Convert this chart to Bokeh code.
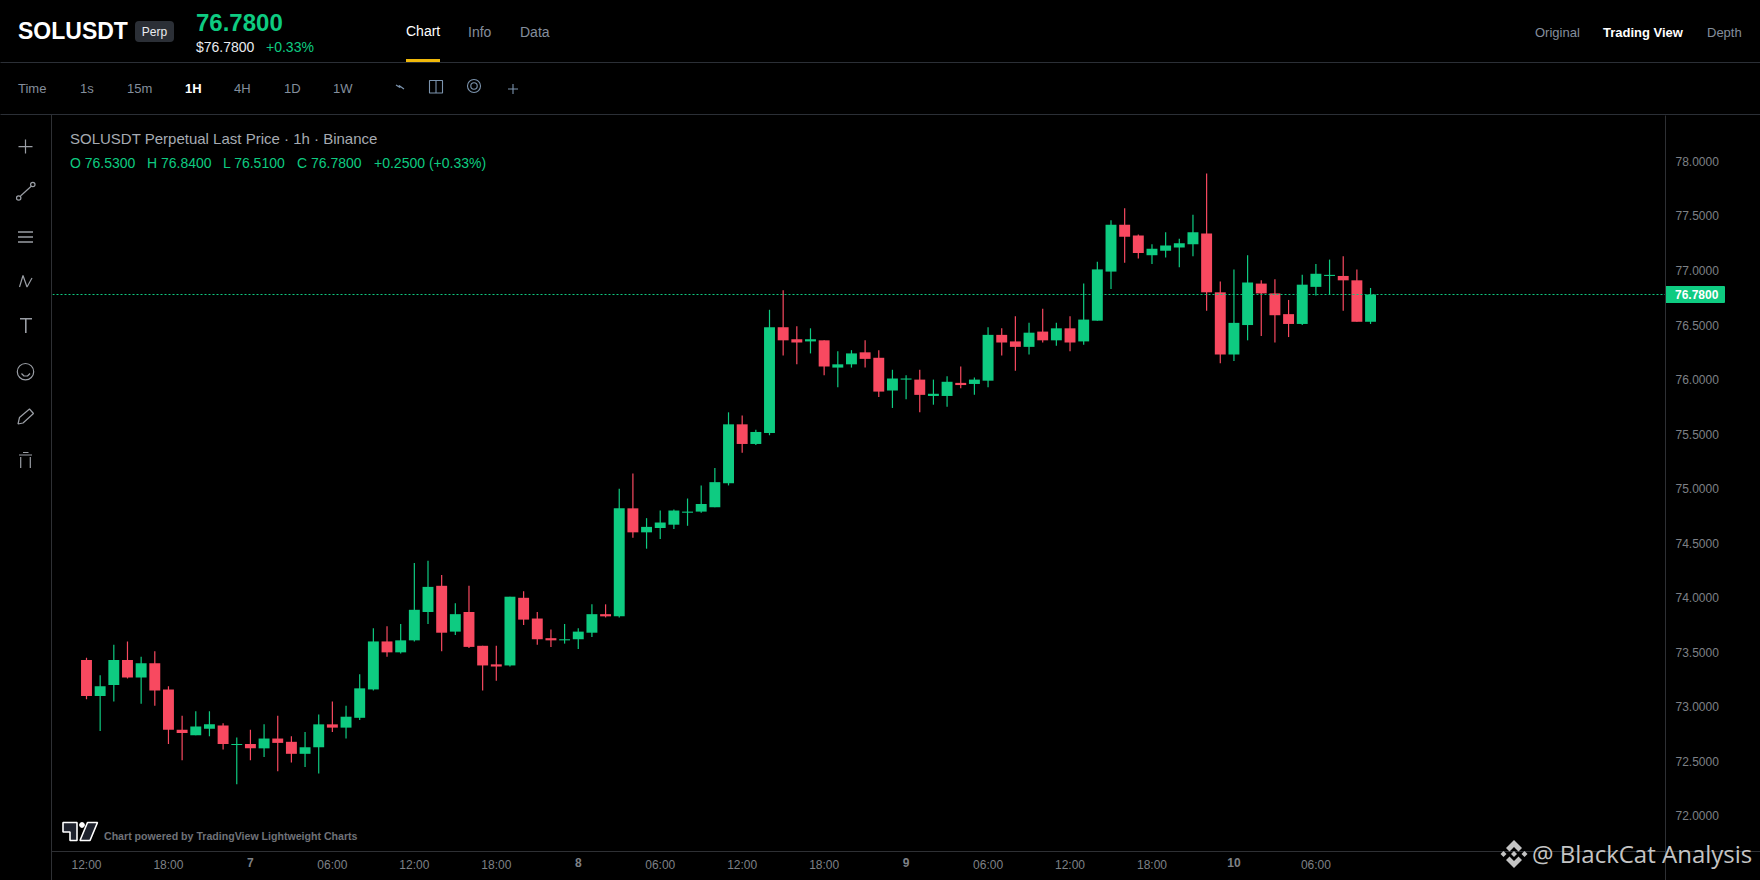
from bokeh.core.properties import value
from bokeh.embed import file_html
from bokeh.layouts import column
from bokeh.resources import INLINE
from bokeh.models import (ColumnDataSource, FixedTicker, LinearAxis,
                          NumeralTickFormatter, Range1d)
from bokeh.plotting import figure

# ---- data -----------------------------------------------------------------
opens = [73.43,73.10,73.20,73.43,73.27,73.40,73.16,72.79,72.74,72.80,
         72.83,72.65,72.66,72.62,72.71,72.68,72.57,72.63,72.84,72.81,
         72.90,73.16,73.60,73.50,73.61,73.87,74.11,73.69,73.87,73.56,
         73.39,73.38,74.00,73.81,73.63,73.61,73.62,73.68,73.85,73.83,
         74.82,74.60,74.64,74.67,74.78,74.79,74.83,75.05,75.59,75.41,
         75.51,76.48,76.37,76.35,76.36,76.11,76.14,76.25,76.20,75.90,
         76.00,76.00,75.85,75.85,75.97,75.96,75.99,76.41,76.35,76.30,
         76.44,76.36,76.47,76.35,76.54,76.99,77.42,77.32,77.14,77.18,
         77.21,77.24,77.34,76.80,76.23,76.50,76.88,76.79,76.60,76.51,
         76.85,76.95,76.95,76.91,76.53]
highs = [73.45,73.29,73.57,73.60,73.46,73.51,73.19,72.92,72.96,72.96,
         72.85,72.72,72.79,72.84,72.92,72.73,72.77,72.93,73.05,73.01,
         73.30,73.72,73.74,73.76,74.32,74.34,74.21,73.95,74.11,73.56,
         73.56,74.01,74.06,73.87,73.71,73.76,73.72,73.94,73.94,75.00,
         75.14,74.73,74.80,74.81,74.91,75.03,75.19,75.70,75.67,75.54,
         76.64,76.82,76.49,76.47,76.36,76.26,76.27,76.36,76.27,76.09,
         76.04,76.09,76.00,76.03,76.12,76.02,76.48,76.47,76.58,76.52,
         76.65,76.52,76.58,76.88,77.08,77.46,77.57,77.33,77.24,77.35,
         77.29,77.51,77.89,76.90,77.01,77.14,76.91,76.92,76.73,76.96,
         77.06,77.10,77.13,77.01,76.84]
lows = [73.07,72.78,73.05,73.26,73.03,73.01,72.66,72.51,72.74,72.73,
        72.61,72.29,72.51,72.54,72.41,72.49,72.45,72.39,72.77,72.71,
        72.88,73.15,73.46,73.49,73.60,73.76,73.51,73.66,73.54,73.15,
        73.24,73.37,73.75,73.57,73.55,73.58,73.53,73.64,73.82,73.82,
        74.55,74.45,74.54,74.63,74.66,74.78,74.83,75.03,75.33,75.40,
        75.49,76.22,76.14,76.24,76.04,75.93,76.11,76.11,75.84,75.74,
        75.82,75.70,75.77,75.75,75.92,75.86,75.93,76.22,76.08,76.23,
        76.34,76.31,76.26,76.32,76.54,76.83,77.07,77.11,77.06,77.12,
        77.03,77.13,76.63,76.15,76.17,76.36,76.40,76.34,76.39,76.50,
        76.77,76.78,76.63,76.53,76.51]
closes = [73.10,73.19,73.43,73.27,73.40,73.15,72.79,72.76,72.82,72.84,
          72.66,72.66,72.62,72.71,72.67,72.57,72.63,72.84,72.81,72.91,
          73.17,73.60,73.50,73.61,73.89,74.10,73.68,73.85,73.55,73.38,
          73.37,74.01,73.80,73.62,73.61,73.62,73.69,73.85,73.83,74.82,
          74.60,74.65,74.69,74.80,74.79,74.86,75.06,75.59,75.41,75.52,
          76.48,76.36,76.34,76.37,76.12,76.14,76.24,76.19,75.89,76.01,
          76.01,75.86,75.87,75.98,75.95,76.00,76.41,76.34,76.30,76.43,
          76.36,76.47,76.34,76.55,77.01,77.42,77.31,77.16,77.20,77.23,
          77.25,77.35,76.80,76.23,76.52,76.89,76.79,76.59,76.51,76.87,
          76.97,76.96,76.91,76.53,76.78]
last_price = 76.78
price_ticks = [72.0,72.5,73.0,73.5,74.0,74.5,75.0,75.5,76.0,76.5,77.0,77.5,78.0]
time_ticks = [0,6,18,24,30,42,48,54,66,72,78,90]
time_labels = ["12:00","18:00","06:00","12:00","18:00","06:00","12:00","18:00","06:00","12:00","18:00","06:00"]
day_ticks = [12,36,60,84]
day_labels = ["7","8","9","10"]

# ---- palette --------------------------------------------------------------
UP, DOWN = "#0ECB81", "#F84960"
BG, RULE, AXIS = "#000000", "#2B2F36", "#2E3034"
GREY, DIM, ICON = "#848E9C", "#7E8186", "#9A9EA5"
SANS = "Liberation Sans"

W, H = 1760, 880
L, R, T, B = 52, 1665, 115, 851
X_RANGE = (-2.489, 115.593)
Y_RANGE = (71.6746, 78.4207)

# ---- bottom layer: page chrome, in page pixels -------------------------------
c = figure(width=W, height=H, output_backend="svg", toolbar_location=None,
           x_range=Range1d(0.5, W+0.5), y_range=Range1d(H+0.5, 0.5), x_axis_type=None, y_axis_type=None,
           min_border=0, background_fill_color=BG, border_fill_color=BG, outline_line_color=None,
           frame_align=False, styles={"background-color": BG})
c.grid.visible = False

def box(x0, y0, x1, y1, color, radius=0):
    c.quad(left=[x0], right=[x1], top=[y0], bottom=[y1], fill_color=color, line_color=None, border_radius=radius)

def poly(pts, fill=None, line=None, w=1):
    c.patch([a for a, _ in pts], [b for _, b in pts], fill_color=fill, fill_alpha=1 if fill else 0,
            line_color=line, line_width=w, line_alpha=1 if line else 0)

def path(pts, color=ICON, w=1.2):
    c.line([a for a, _ in pts], [b for _, b in pts], line_color=color, line_width=w)

def ring(cx, cy, r, color=ICON, w=1.2, fill=None):
    c.circle([cx], [cy], radius=r, fill_color=fill, fill_alpha=1 if fill else 0, line_color=color, line_width=w)

def text(x, y, s, color=GREY, size=13, bold=False, font=SANS, align="left"):
    c.text([x], [y], text=[s], text_color=color, text_font=value(font), text_font_size=f"{size}px",
           text_font_style="bold" if bold else "normal", text_align=align, text_baseline="middle")

# rules
box(0, 62, W, 63, RULE)
box(0, 114, W, 115, RULE)
box(51, 115, 52, H, AXIS)
box(R, B, R+1, H, AXIS)
box(L, B, W, B+1, AXIS)

# header
text(18, 31, "SOLUSDT", "#FFFFFF", 23, True)
box(135, 21, 174, 42, "#2B2F36", 4)
text(154.5, 31.5, "Perp", "#EAECEF", 12, align="center")
text(196, 22, "76.7800", UP, 24, True)
text(196, 47, "$76.7800", "#EAECEF", 14)
text(266, 47, "+0.33%", UP, 14)
text(406, 31, "Chart", "#FFFFFF", 14)
box(406, 59, 440, 62, "#F0B90B")
text(468, 32, "Info", GREY, 14)
text(520, 32, "Data", GREY, 14)
text(1535, 32, "Original", GREY, 13)
text(1603, 32, "Trading View", "#FFFFFF", 13, True)
text(1707, 32, "Depth", GREY, 13)

for x, s, col, b in [(18, "Time", GREY, False), (80, "1s", GREY, False), (127, "15m", GREY, False),
                     (185, "1H", "#FFFFFF", True), (234, "4H", GREY, False), (284, "1D", GREY, False),
                     (333, "1W", GREY, False)]:
    text(x, 88, s, col, 13, b)

BLUE = "#7C94AE"
path([(396, 85), (400, 87.5), (399, 85.5), (404, 89)], BLUE, 1.2)
poly([(429.5, 80.5), (442.5, 80.5), (442.5, 93), (429.5, 93)], line=BLUE, w=1.1)
path([(436, 80.5), (436, 93)], BLUE, 1.1)
ring(474, 86, 6.5, BLUE, 1.1)
ring(474, 86, 3.2, BLUE, 1.1)
path([(508, 89), (518, 89)], BLUE, 1.1)
path([(513, 84), (513, 94)], BLUE, 1.1)

# left tool rail
path([(18.5, 146.6), (32.5, 146.6)])
path([(25.5, 139.6), (25.5, 153.6)])
path([(20.5, 196), (31.5, 186)])
ring(18.7, 198, 2.2)
ring(32.8, 184.5, 2.2)
for y in (232, 237, 242):
    path([(18, y), (33, y)], ICON, 1.4)
path([(19.5, 287), (23, 275.5), (27, 287), (32, 278)])
path([(20, 318.7), (32, 318.7)], ICON, 1.6)
path([(25.8, 318.7), (25.8, 333)], ICON, 1.6)
ring(25.5, 371.7, 8.2)
path([(21.5, 373.5), (24, 376), (27.5, 376), (30, 373.5)])
poly([(18, 424), (19.5, 417.5), (29.5, 409), (33.5, 413.5), (23, 423)], line=ICON, w=1.2)
path([(19, 455), (32, 455)])
path([(23, 452.5), (28.5, 452.5)])
path([(20.7, 457), (20.7, 468)])
path([(30.3, 457), (30.3, 468)])

# legend
text(70, 138, "SOLUSDT Perpetual Last Price \u00b7 1h \u00b7 Binance", "#A6ABB2", 15)
for x, s in [(70, "O 76.5300"), (147, "H 76.8400"), (223, "L 76.5100"), (297, "C 76.7800"),
             (374, "+0.2500 (+0.33%)")]:
    text(x, 163, s, UP, 14)

# last price tag
box(R, 286, 1725, 303, UP, 1)
text(1675, 294.5, "76.7800", "#FFFFFF", 12, True)

# attribution
poly([(63, 822.5), (77, 822.5), (77, 840.5), (70, 840.5), (70, 832), (63, 832)], fill="#1E222D", line="#FFFFFF", w=1.6)
poly([(87.5, 822.5), (97.5, 822.5), (90, 840.5), (80, 840.5)], fill="#1E222D", line="#FFFFFF", w=1.6)
ring(82, 825, 2.4, "#FFFFFF", 1, fill="#FFFFFF")
text(104, 836, "Chart powered by TradingView Lightweight Charts", "#6F7278", 10.6, True)

# watermark
WM = "#C4C4C4"
poly([(1514, 840), (1522, 848), (1518.5, 851.5), (1514, 847), (1509.5, 851.5), (1506, 848)], fill=WM)
poly([(1514, 868), (1522, 860), (1518.5, 856.5), (1514, 861), (1509.5, 856.5), (1506, 860)], fill=WM)
for cx in (1503.5, 1514, 1524.5):
    poly([(cx, 851), (cx+3, 854), (cx, 857), (cx-3, 854)], fill=WM)
text(1532, 853, "@ BlackCat Analysis", WM, 24, font="Open Sans")

# ---- transparent overlays sharing the price/time scales ----------------------
def overlay():
    f = figure(width=W, height=H, output_backend="svg", toolbar_location=None,
               x_range=Range1d(*X_RANGE), y_range=Range1d(*Y_RANGE), x_axis_type=None, y_axis_type=None,
               min_border_left=L, min_border_right=W-R, min_border_top=T, min_border_bottom=H-B,
               background_fill_color=None, border_fill_color=None, outline_line_color=None,
               margin=(-H, 0, 0, 0), frame_align=False)
    f.grid.visible = False
    return f

def time_axis(ticks, labels, style):
    return LinearAxis(ticker=FixedTicker(ticks=ticks), major_label_overrides=dict(zip(ticks, labels)),
                      major_tick_line_color=None, minor_tick_line_color=None, axis_line_color=None,
                      major_tick_out=0, major_label_standoff=6, major_label_text_color=DIM,
                      major_label_text_font=SANS, major_label_text_font_size="12px",
                      major_label_text_font_style=style)

p = overlay()
p.add_layout(LinearAxis(ticker=FixedTicker(ticks=price_ticks), formatter=NumeralTickFormatter(format="0.0000"),
                        major_tick_line_color=None, minor_tick_line_color=None, axis_line_color=AXIS,
                        major_tick_out=0, major_label_standoff=10,
                        major_label_text_color=DIM, major_label_text_font=SANS, major_label_text_font_size="12px"),
             "right")
p.add_layout(time_axis(time_ticks, time_labels, "normal"), "below")

idx = list(range(len(opens)))
colors = [UP if cl >= o else DOWN for o, cl in zip(opens, closes)]
src = ColumnDataSource(dict(i=idx, h=highs, l=lows, color=colors,
                            top=[max(o, cl) for o, cl in zip(opens, closes)],
                            bot=[min(min(o, cl), max(o, cl)-0.01) for o, cl in zip(opens, closes)]))
p.segment("i", "h", "i", "l", source=src, line_color="color", line_width=1.2)
p.vbar("i", 0.8, "bot", "top", source=src, fill_color="color", line_color=None)
p.line(list(X_RANGE), [last_price, last_price], line_color=UP, line_width=1, line_dash="2 2")

d = overlay()
d.add_layout(time_axis(day_ticks, day_labels, "bold"), "below")

page = column(c, p, d, spacing=0)
open("out.html", "w").write(file_html(page, INLINE))
